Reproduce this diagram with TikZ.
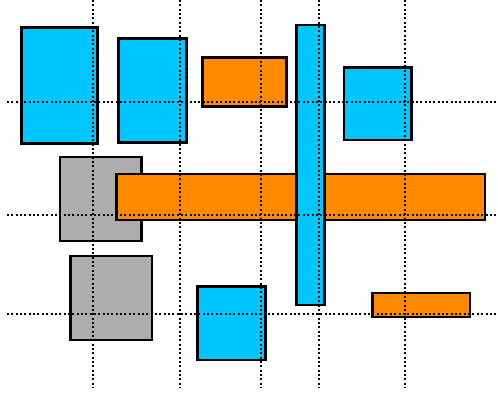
\documentclass[tikz,border=0pt]{standalone}
\usepackage{xcolor}
\definecolor{boxblue}{HTML}{00C6FF}
\definecolor{boxorange}{HTML}{FF8A00}
\definecolor{boxgray}{HTML}{ADADAD}

\begin{document}
\begin{tikzpicture}[
  x=1pt, y=-1pt,
  line width=2.6pt,
  bluebox/.style={draw=black, fill=boxblue},
  orangebox/.style={draw=black, fill=boxorange},
  graybox/.style={draw=black, fill=boxgray},
  gridline/.style={draw=black, line width=2pt, dash pattern=on 2pt off 2.35pt}
]
  \useasboundingbox (0,0) rectangle (498,393);

  % boxes, back to front
  \draw[bluebox] (21.5,27.5) rectangle (97.5,143.5);
  \draw[bluebox] (118.5,38.5) rectangle (186.5,142.5);
  \draw[orangebox] (202.5,57.5) rectangle (286.5,106.5);
  \draw[bluebox] (344,67.5) rectangle (411.5,140);
  \draw[graybox] (60,157) rectangle (141.5,241);
  \draw[orangebox] (116.5,174) rectangle (485,220);
  \draw[bluebox] (296.5,25) rectangle (324.5,305);
  \draw[graybox] (70.5,256) rectangle (152,340);
  \draw[bluebox] (197.5,286.5) rectangle (265.5,360);
  \draw[orangebox] (372.5,293) rectangle (470,317);

  % dotted grid on top
  \foreach \gx in {92.5,179.5,260.5,319,405}
    \draw[gridline] (\gx,0) -- (\gx,388);
  \foreach \gy in {102.5,215,314}
    \draw[gridline] (7,\gy) -- (498,\gy);
\end{tikzpicture}
\end{document}
